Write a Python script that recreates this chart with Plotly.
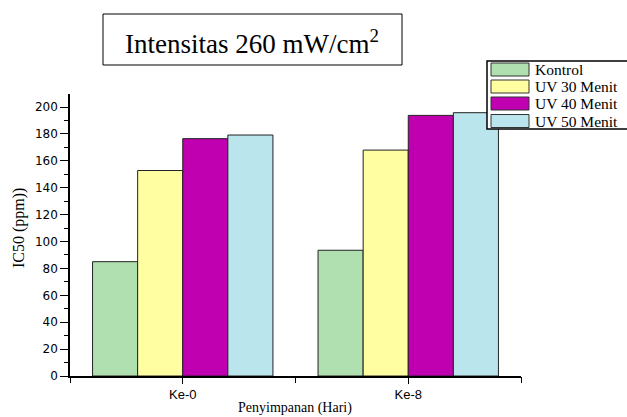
import plotly.graph_objects as go

categories = ["Ke-0", "Ke-8"]
series_names = ["Kontrol", "UV 30 Menit", "UV 40 Menit", "UV 50 Menit"]
kontrol = [85.0, 93.5]
uv30 = [152.8, 168.0]
uv40 = [176.5, 193.8]
uv50 = [179.2, 195.8]
series_values = [kontrol, uv30, uv40, uv50]
colors = ["#B1E0B0", "#FFFFA2", "#C000B0", "#BAE5EC"]
title_text = "Intensitas 260 mW/cm<sup>2</sup>"
x_title = "Penyimpanan (Hari)"
y_title = "IC50 (ppm))"

W, H = 627, 417
L, R, T, B = 70, 106, 94, 41
pw, ph = W - L - R, H - T - B

def px(x):
    return (x - L) / pw

def py(y):
    return (H - B - y) / ph

fig = go.Figure()
for name, vals, col in zip(series_names, series_values, colors):
    fig.add_trace(go.Bar(x=categories, y=vals, name=name, marker_color=col,
                         marker_line_color="#222222", marker_line_width=1,
                         showlegend=False))

# helper trace for boundary ticks
fig.add_trace(go.Scatter(x=categories, y=[0, 0], xaxis="x2", mode="markers",
                         marker=dict(opacity=0), hoverinfo="skip", showlegend=False))

serif = "Liberation Serif"
sans = "Liberation Sans"

fig.update_layout(
    width=W, height=H, margin=dict(l=L, r=R, t=T, b=B, autoexpand=False),
    paper_bgcolor="white", plot_bgcolor="white",
    barmode="group", bargap=0.2, bargroupgap=0,
    xaxis=dict(type="category", range=[-0.5, 1.5], showline=True, linecolor="black",
               linewidth=1.5, ticks="outside", ticklen=6, tickcolor="black", automargin=False,
               tickfont=dict(family=sans, size=13, color="black"),
               showgrid=False, zeroline=False),
    xaxis2=dict(type="category", overlaying="x", range=[-0.5, 1.5], tickson="boundaries",
                ticks="outside", ticklen=6, tickcolor="black", showticklabels=False,
                showline=False, showgrid=False, zeroline=False, side="bottom", automargin=False,
                categoryorder="array", categoryarray=categories),
    yaxis=dict(range=[0, 209.7], showline=True, linecolor="black", linewidth=1.5,
               ticks="outside", ticklen=8, tickcolor="black", dtick=20, tick0=0, automargin=False,
               tickfont=dict(family="DejaVu Sans", size=12, color="black"),
               minor=dict(ticks="outside", ticklen=4, dtick=10, tickcolor="black"),
               showgrid=False, zeroline=False),
)

shapes = []
annotations = []
# axis titles
annotations.append(dict(xref="paper", yref="paper", x=px(295), y=py(408), text=x_title,
                        showarrow=False, xanchor="center", yanchor="middle",
                        font=dict(family=serif, size=14, color="black")))
annotations.append(dict(xref="paper", yref="paper", x=px(19), y=py(228), text=y_title,
                        showarrow=False, xanchor="center", yanchor="middle", textangle=-90,
                        font=dict(family=serif, size=16, color="black")))
# title box
shapes.append(dict(type="rect", xref="paper", yref="paper",
                   x0=px(103), x1=px(402), y0=py(65), y1=py(14),
                   line=dict(color="black", width=1), fillcolor="white"))
annotations.append(dict(xref="paper", yref="paper", x=px(252), y=py(42),
                        text=title_text, showarrow=False,
                        font=dict(family=serif, size=27, color="black"),
                        xanchor="center", yanchor="middle"))

# custom legend
shapes.append(dict(type="rect", xref="paper", yref="paper",
                   x0=px(487), x1=px(632), y0=py(129), y1=py(61),
                   line=dict(color="black", width=1.5), fillcolor="white", layer="above"))
centers = [69.5, 86.5, 103.5, 121]
for name, col, cy in zip(series_names, colors, centers):
    shapes.append(dict(type="rect", xref="paper", yref="paper",
                       x0=px(491), x1=px(529), y0=py(cy + 6.5), y1=py(cy - 6.5),
                       line=dict(color="#333333", width=1), fillcolor=col, layer="above"))
    annotations.append(dict(xref="paper", yref="paper", x=px(533), y=py(cy),
                            text=name, showarrow=False, xanchor="left", yanchor="middle",
                            font=dict(family=serif, size=15.5, color="black")))

fig.update_layout(shapes=shapes, annotations=annotations)
fig.write_html("out.html", config={"displayModeBar": False},
               post_script="document.body.style.margin='0';document.body.style.padding='0';")
